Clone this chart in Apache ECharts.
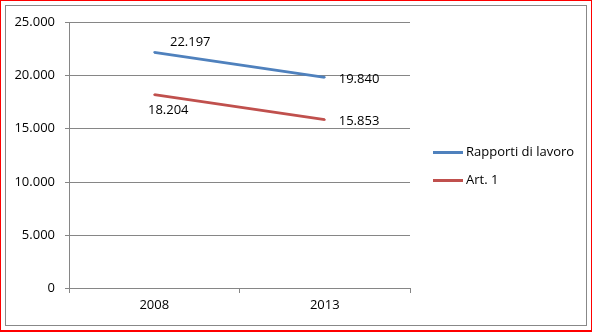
<!DOCTYPE html>
<html><head><meta charset="utf-8">
<script src="https://cdn.jsdelivr.net/npm/echarts@6/dist/echarts.min.js"></script>
<style>
html,body{margin:0;padding:0;background:#fff;}
#outer{position:absolute;left:0;top:0;width:590px;height:329px;border:1px solid #ff0000;border-bottom-width:2px;border-right-width:1px;}
#inner{position:absolute;left:5px;top:5px;width:580px;height:319px;border:1px solid #888;}
#chart{position:absolute;left:0;top:0;width:592px;height:332px;}
</style></head>
<body>
<div id="outer"></div><div id="inner"></div>
<div id="chart"></div>
<script>
const categories = ['2008', '2013'];
const seriesNames = ['Rapporti di lavoro', 'Art. 1'];
const rapporti = [22197, 19840];
const art1 = [18204, 15853];
const yTicks = [0, 5000, 10000, 15000, 20000, 25000];

function fmt(v){ return String(v).replace(/\B(?=(\d{3})+(?!\d))/g, '.'); }
const FONT = 'Open Sans';
const FS = 13;
const chart = echarts.init(document.getElementById('chart'), null, {renderer:'canvas'});
chart.setOption({
  animation:false,
  backgroundColor:'transparent',
  textStyle:{fontFamily:FONT},
  grid:{left:69, right:182, top:22.5, bottom:44, containLabel:false},
  legend:{
    orient:'vertical', left:428, top:140, padding:[5,5,5,5],
    itemWidth:30, itemHeight:3, itemGap:13, icon:'rect',
    textStyle:{fontFamily:FONT, fontSize:FS, color:'#000', padding:[0,0,0,-2], lineHeight:15},
    data:seriesNames
  },
  xAxis:{
    type:'category', data:categories,
    axisLine:{lineStyle:{color:'#868686', width:1}},
    axisTick:{show:true, length:5, lineStyle:{color:'#868686'}},
    axisLabel:{color:'#000', fontFamily:FONT, fontSize:FS, margin:11}
  },
  yAxis:{
    type:'value', min:yTicks[0], max:yTicks[yTicks.length-1], interval:5000,
    axisLine:{show:true, lineStyle:{color:'#868686'}},
    axisTick:{show:true, length:4, lineStyle:{color:'#868686'}},
    splitLine:{lineStyle:{color:'#868686', width:1}},
    axisLabel:{color:'#000', fontFamily:FONT, fontSize:FS, margin:14, formatter:v=>fmt(v)}
  },
  series:[
    {name:seriesNames[0], type:'line', data:[
        {value:rapporti[0], label:{position:'top', offset:[36,3]}},
        {value:rapporti[1], label:{position:'right', distance:13, offset:[0,2]}}],
     symbol:'circle', symbolSize:2, showSymbol:true, itemStyle:{color:'#4F81BD'}, lineStyle:{width:2.8, color:'#4F81BD'},
     label:{show:true, color:'#000', fontFamily:FONT, fontSize:FS, formatter:p=>fmt(p.value)}},
    {name:seriesNames[1], type:'line', data:[
        {value:art1[0], label:{position:'bottom', offset:[14,3]}},
        {value:art1[1], label:{position:'right', distance:13, offset:[0,2]}}],
     symbol:'circle', symbolSize:2, showSymbol:true, itemStyle:{color:'#C0504D'}, lineStyle:{width:2.8, color:'#C0504D'},
     label:{show:true, color:'#000', fontFamily:FONT, fontSize:FS, formatter:p=>fmt(p.value)}}
  ]
});
</script>
</body></html>
